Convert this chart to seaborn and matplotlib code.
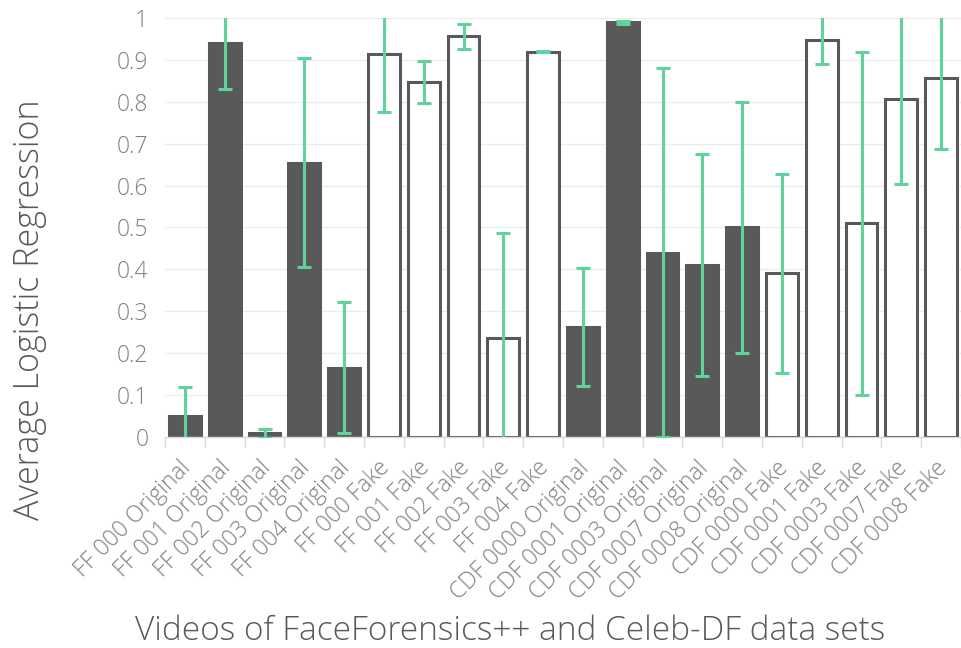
import matplotlib
matplotlib.use("Agg")
import matplotlib.pyplot as plt
import matplotlib.transforms as mtransforms
import seaborn as sns
import pandas as pd
import numpy as np

# Video identifiers and their kind
videos = [
    "FF 000 Original", "FF 001 Original", "FF 002 Original", "FF 003 Original",
    "FF 004 Original", "FF 000 Fake", "FF 001 Fake", "FF 002 Fake",
    "FF 003 Fake", "FF 004 Fake", "CDF 0000 Original", "CDF 0001 Original",
    "CDF 0003 Original", "CDF 0007 Original", "CDF 0008 Original",
    "CDF 0000 Fake", "CDF 0001 Fake", "CDF 0003 Fake", "CDF 0007 Fake",
    "CDF 0008 Fake",
]
kinds = ["Original" if v.endswith("Original") else "Fake" for v in videos]

# Average logistic regression output per video
scores = [0.050, 0.940, 0.008, 0.655, 0.165, 0.915, 0.847, 0.957, 0.237, 0.920,
          0.262, 0.990, 0.440, 0.410, 0.500, 0.390, 0.947, 0.510, 0.806, 0.857]
# Spread (error bar half-length) per video
spread = [0.070, 0.110, 0.010, 0.250, 0.157, 0.140, 0.050, 0.030, 0.250, 0.002,
          0.140, 0.003, 0.440, 0.265, 0.300, 0.237, 0.057, 0.410, 0.203, 0.170]

y_ticks = [0, 0.1, 0.2, 0.3, 0.4, 0.5, 0.6, 0.7, 0.8, 0.9, 1]
y_tick_labels = ["0", "0.1", "0.2", "0.3", "0.4", "0.5", "0.6", "0.7", "0.8", "0.9", "1"]

df = pd.DataFrame({"video": videos, "score": scores, "kind": kinds})

sns.set_theme(style="white")
plt.rcParams["font.family"] = ["Open Sans", "DejaVu Sans"]

dark = "#595959"
green = "#5fd39b"

fig = plt.figure(figsize=(9.61, 6.48), dpi=100)
ax = fig.add_axes([0.1717, 0.326, 0.8283, 0.646])

sns.barplot(
    data=df, x="video", y="score", hue="kind", dodge=False,
    palette={"Original": dark, "Fake": "white"},
    edgecolor=dark, linewidth=2.2, width=0.8, legend=False, ax=ax,
)

ax.errorbar(
    np.arange(len(videos)), scores, yerr=spread, fmt="none",
    ecolor=green, elinewidth=2.2, capsize=5, capthick=2.2, zorder=5,
)

ax.set_ylim(0, 1)
ax.set_xlim(-0.5, len(videos) - 0.5)
ax.set_yticks(y_ticks)
ax.set_yticklabels(y_tick_labels)
ax.yaxis.grid(True, color="#ececec", linewidth=1)
ax.set_axisbelow(True)

for side in ["top", "right", "left"]:
    ax.spines[side].set_visible(False)
ax.spines["bottom"].set_color("#d9d9d9")
ax.spines["bottom"].set_linewidth(1)

# tick marks between categories
ax.set_xticks(np.arange(-0.5, len(videos)), minor=True)
ax.tick_params(axis="x", which="minor", length=7, color="#d9d9d9", width=1, bottom=True)
ax.tick_params(axis="x", which="major", length=0, pad=14)
ax.tick_params(axis="y", length=0, pad=12)

shift = mtransforms.ScaledTranslation(-6 / 100, 0, fig.dpi_scale_trans)
for lab in ax.get_xticklabels():
    lab.set_rotation(45)
    lab.set_ha("right")
    lab.set_va("top")
    lab.set_rotation_mode("anchor")
    lab.set_fontsize(16.5)
    lab.set_fontweight("light")
    lab.set_color("#808080")
    lab.set_transform(lab.get_transform() + shift)
for lab in ax.get_yticklabels():
    lab.set_fontsize(16.5)
    lab.set_fontweight("light")
    lab.set_color("#808080")

ax.set_xlabel("Videos of FaceForensics++ and Celeb-DF data sets",
              fontsize=24, color=dark, fontweight="light",
              ha="left", va="baseline")
ax.set_ylabel("Average Logistic Regression", fontsize=24.5, color=dark,
              fontweight="light", va="center")
ax.xaxis.set_label_coords(-0.0377, -0.485)
ax.yaxis.set_label_coords(-0.1696, 0.303)

fig.savefig("out.png", dpi=100)
